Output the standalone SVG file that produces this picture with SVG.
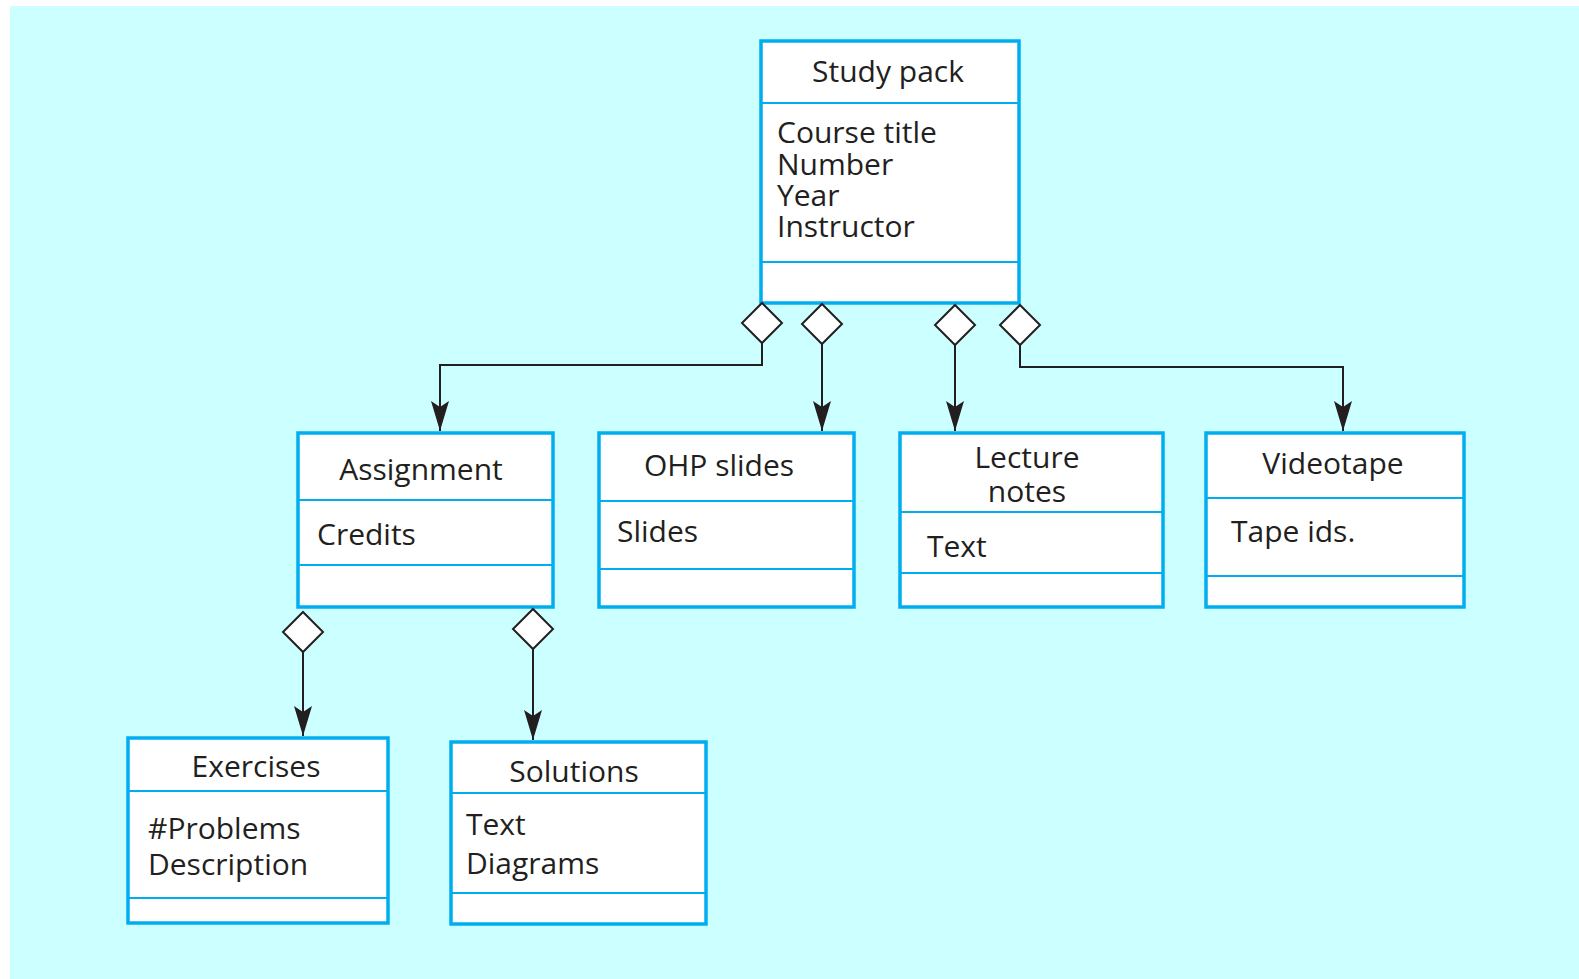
<svg xmlns="http://www.w3.org/2000/svg" xmlns:xlink="http://www.w3.org/1999/xlink" width="1579" height="979" viewBox="0 0 1579 979">
<style>
.box{fill:#ffffff;stroke:#00AEEF;stroke-width:3.5}
.div{stroke:#00AEEF;stroke-width:2}
.t{font-family:"Open Sans","Noto Sans","Liberation Sans",sans-serif;font-size:30px;fill:#231F20}
.c{text-anchor:middle}
.ln{fill:none;stroke:#231F20;stroke-width:2}
.dia{fill:#ffffff;stroke:#231F20;stroke-width:2}
</style>
<defs>
<marker id="arr" markerUnits="userSpaceOnUse" markerWidth="30" markerHeight="18" refX="30" refY="9" orient="auto">
<path d="M30,9 L0,0 L6,9 L0,18 Z" fill="#231F20"/>
</marker>
<polygon id="dm" points="0,-20 20,0 0,20 -20,0"/>
</defs>
<rect x="10" y="6" width="1569" height="973" fill="#CCFFFF"/>

<g id="study-pack">
<rect class="box" x="761" y="41" width="258" height="262"/>
<line class="div" x1="761" y1="103" x2="1019" y2="103"/>
<line class="div" x1="761" y1="262" x2="1019" y2="262"/>
<text class="t c" x="888" y="82">Study pack</text>
<text class="t" x="777" y="143">Course title</text>
<text class="t" x="777" y="175">Number</text>
<text class="t" x="777" y="206">Year</text>
<text class="t" x="777" y="237">Instructor</text>
</g>

<g id="assignment">
<rect class="box" x="298" y="433" width="255" height="174"/>
<line class="div" x1="298" y1="500" x2="553" y2="500"/>
<line class="div" x1="298" y1="565" x2="553" y2="565"/>
<text class="t c" x="421" y="480">Assignment</text>
<text class="t" x="317" y="545">Credits</text>
</g>

<g id="ohp-slides">
<rect class="box" x="599" y="433" width="255" height="174"/>
<line class="div" x1="599" y1="501" x2="854" y2="501"/>
<line class="div" x1="599" y1="569" x2="854" y2="569"/>
<text class="t c" x="719" y="476">OHP slides</text>
<text class="t" x="617" y="542">Slides</text>
</g>

<g id="lecture-notes">
<rect class="box" x="900" y="433" width="263" height="174"/>
<line class="div" x1="900" y1="512" x2="1163" y2="512"/>
<line class="div" x1="900" y1="573" x2="1163" y2="573"/>
<text class="t c" x="1027" y="468">Lecture</text>
<text class="t c" x="1027" y="502">notes</text>
<text class="t" x="927" y="557">Text</text>
</g>

<g id="videotape">
<rect class="box" x="1206" y="433" width="258" height="174"/>
<line class="div" x1="1206" y1="498" x2="1464" y2="498"/>
<line class="div" x1="1206" y1="576" x2="1464" y2="576"/>
<text class="t c" x="1333" y="474">Videotape</text>
<text class="t" x="1231" y="542">Tape ids.</text>
</g>

<g id="exercises">
<rect class="box" x="128" y="738" width="260" height="185"/>
<line class="div" x1="128" y1="791" x2="388" y2="791"/>
<line class="div" x1="128" y1="898" x2="388" y2="898"/>
<text class="t c" x="256" y="777">Exercises</text>
<text class="t" x="148" y="839">#Problems</text>
<text class="t" x="148" y="875">Description</text>
</g>

<g id="solutions">
<rect class="box" x="451" y="742" width="255" height="182"/>
<line class="div" x1="451" y1="793" x2="706" y2="793"/>
<line class="div" x1="451" y1="893" x2="706" y2="893"/>
<text class="t c" x="574" y="782">Solutions</text>
<text class="t" x="466" y="835">Text</text>
<text class="t" x="466" y="874">Diagrams</text>
</g>

<g id="connectors">
<path class="ln" d="M762,343 V365 H440 V431" marker-end="url(#arr)"/>
<path class="ln" d="M822,344 V431" marker-end="url(#arr)"/>
<path class="ln" d="M955,345 V431" marker-end="url(#arr)"/>
<path class="ln" d="M1020,345 V367 H1343 V431" marker-end="url(#arr)"/>
<path class="ln" d="M303,652 V736" marker-end="url(#arr)"/>
<path class="ln" d="M533,649 V740" marker-end="url(#arr)"/>
<use xlink:href="#dm" class="dia" x="762" y="323"/>
<use xlink:href="#dm" class="dia" x="822" y="324"/>
<use xlink:href="#dm" class="dia" x="955" y="325"/>
<use xlink:href="#dm" class="dia" x="1020" y="325"/>
<use xlink:href="#dm" class="dia" x="303" y="632"/>
<use xlink:href="#dm" class="dia" x="533" y="629"/>
</g>
</svg>
